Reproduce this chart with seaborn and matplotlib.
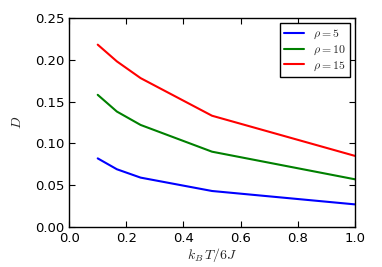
import pandas as pd
import matplotlib
matplotlib.use("Agg")
import matplotlib.pyplot as plt
import seaborn as sns

# temperature points k_B T / 6J
temps = [0.1, 0.167, 0.25, 0.5, 1.0]
d_rho5 = [0.082, 0.069, 0.059, 0.043, 0.027]
d_rho10 = [0.158, 0.138, 0.122, 0.090, 0.057]
d_rho15 = [0.218, 0.198, 0.178, 0.133, 0.085]
labels = [r'$\rho=5$', r'$\rho=10$', r'$\rho=15$']
colors = ['#0000ff', '#008000', '#ff0000']

sns.set_style("ticks")
plt.rcParams['font.family'] = ['DejaVu Sans']
plt.rcParams['mathtext.fontset'] = 'cm'
plt.rcParams['xtick.direction'] = 'in'
plt.rcParams['ytick.direction'] = 'in'
plt.rcParams['xtick.top'] = True
plt.rcParams['ytick.right'] = True

rows = []
for lab, vals in zip(labels, [d_rho5, d_rho10, d_rho15]):
    for t, v in zip(temps, vals):
        rows.append({'T': t, 'D': v, 'rho': lab})
df = pd.DataFrame(rows)

fig = plt.figure(figsize=(3.82, 2.67), dpi=100)
ax = fig.add_axes([0.181, 0.15, 0.748, 0.783])
sns.lineplot(data=df, x='T', y='D', hue='rho', palette=colors, lw=1.5, ax=ax)

ax.set_xlim(0.0, 1.0)
ax.set_ylim(0.0, 0.25)
ax.set_xticks([0.0, 0.2, 0.4, 0.6, 0.8, 1.0])
ax.set_yticks([0.0, 0.05, 0.10, 0.15, 0.20, 0.25])
ax.set_yticklabels(['0.00', '0.05', '0.10', '0.15', '0.20', '0.25'])
ax.tick_params(labelsize=9.5, length=4, width=0.8, colors='black')
for s in ax.spines.values():
    s.set_linewidth(1.0)
    s.set_color('black')
ax.set_xlabel(r'$k_B\,T/6J$', fontsize=10, labelpad=1)
ax.set_ylabel(r'$D$', fontsize=10, labelpad=8)

leg = ax.legend(loc='upper right', fontsize=8.5, fancybox=False, framealpha=1,
                edgecolor='black', borderpad=0.35, handlelength=1.7,
                labelspacing=0.15, handletextpad=0.8, borderaxespad=0.4)
leg.get_frame().set_linewidth(1.0)
leg.set_title(None)

fig.savefig('out.png', dpi=100)
